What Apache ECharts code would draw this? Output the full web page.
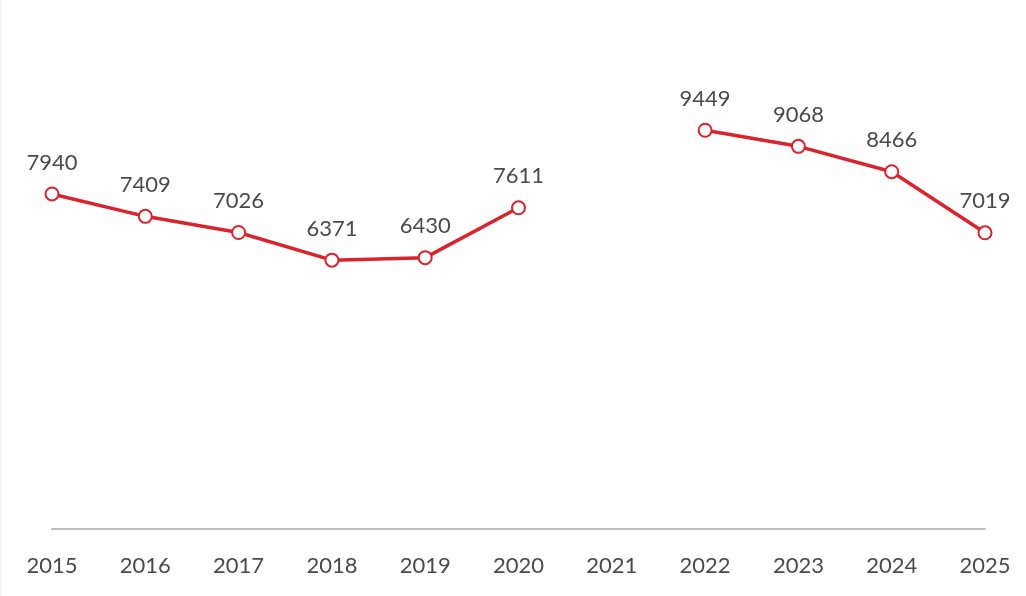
<!DOCTYPE html>
<html>
<head>
<meta charset="utf-8">
<script src="https://cdn.jsdelivr.net/npm/echarts@6/dist/echarts.min.js"></script>
<style>
  html, body { margin: 0; padding: 0; background: #ffffff; }
  #chart { width: 1026px; height: 596px; border-left: 2px solid #f3f3f3; box-sizing: border-box; }
</style>
</head>
<body>
<div id="chart"></div>
<script>
// Yearly values; 2021 has no figure, so the line breaks there.
const years = ['2015', '2016', '2017', '2018', '2019', '2020', '2021', '2022', '2023', '2024', '2025'];
const values = [7940, 7409, 7026, 6371, 6430, 7611, null, 9449, 9068, 8466, 7019];

const chart = echarts.init(document.getElementById('chart'));
chart.setOption({
  animation: false,
  grid: { left: 50, right: 41, top: 107, bottom: 67 },
  xAxis: {
    type: 'category',
    data: years,
    boundaryGap: false,
    axisLine: { lineStyle: { color: '#bdbdbd', width: 2 } },
    axisTick: { show: false },
    axisLabel: {
      margin: 26,
      color: '#4a4a4a',
      fontSize: 22,
      fontFamily: 'Lato',
      interval: 0
    }
  },
  yAxis: {
    type: 'value',
    min: 0,
    max: 10000,
    show: false,
    splitLine: { show: false }
  },
  series: [{
    type: 'line',
    data: values,
    connectNulls: false,
    symbol: 'circle',
    symbolSize: 13,
    lineStyle: { color: '#d9232d', width: 3.5 },
    itemStyle: { color: '#ffffff', borderColor: '#d9232d', borderWidth: 2 },
    label: {
      show: true,
      position: 'top',
      distance: 13,
      color: '#4a4a4a',
      fontSize: 22,
      fontFamily: 'Lato'
    }
  }]
});
</script>
</body>
</html>
